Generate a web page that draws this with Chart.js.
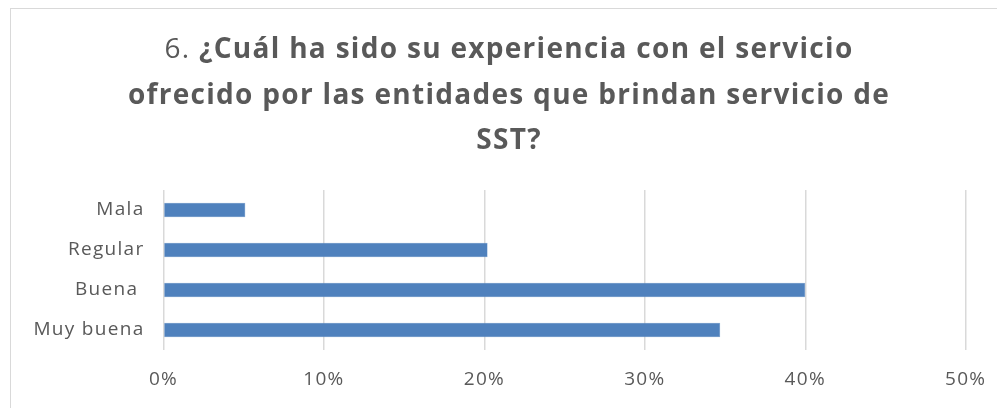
<!DOCTYPE html>
<html>
<head>
<meta charset="utf-8">
<script src="https://cdn.jsdelivr.net/npm/chart.js@4"></script>
<style>
  html, body { margin: 0; padding: 0; background: #fff; }
  #wrap { position: relative; width: 997px; height: 408px; overflow: hidden; }
  #frame { position: absolute; left: 10px; top: 8px; width: 1100px; height: 500px; border: 1px solid #d9d9d9; }
  canvas { position: absolute; left: 0; top: 0; }
</style>
</head>
<body>
<div id="wrap">
  <div id="frame"></div>
  <canvas id="myChart" width="997" height="408"></canvas>
</div>
<script>
const categories = ["Mala", "Regular", "Buena ", "Muy buena"];
const percentages = [5.1, 20.2, 40.0, 34.7];
const titleLines = [
  ["6. ", "¿Cuál ha sido su experiencia con el servicio"],
  ["", "ofrecido por las entidades que brindan servicio de"],
  ["", "SST?"],
];

const fontFamily = "'Open Sans', Lato, sans-serif";
const textColor = "#595959";

// wider spacing to get closer to the Calibri look of the original
const spacingPlugin = {
  id: "spacing",
  beforeLayout(chart) { chart.ctx.letterSpacing = "1.3px"; },
  beforeDraw(chart) { chart.ctx.letterSpacing = "1.3px"; },
};

// title: "6." regular, rest bold
const titlePlugin = {
  id: "mixedTitle",
  afterDraw(chart) {
    const ctx = chart.ctx;
    const lineY = [50, 96, 141];
    const cx = 509;
    const size = 28;
    ctx.save();
    ctx.letterSpacing = "1.3px";
    ctx.fillStyle = textColor;
    ctx.textBaseline = "middle";
    titleLines.forEach((parts, i) => {
      ctx.font = size + "px " + fontFamily;
      let w1 = ctx.measureText(parts[0]).width;
      ctx.font = "bold " + size + "px " + fontFamily;
      let w2 = ctx.measureText(parts[1]).width;
      let x = cx - (w1 + w2) / 2;
      ctx.textAlign = "left";
      ctx.font = size + "px " + fontFamily;
      ctx.fillText(parts[0], x, lineY[i]);
      ctx.font = "bold " + size + "px " + fontFamily;
      ctx.fillText(parts[1], x + w1, lineY[i]);
    });
    ctx.restore();
  },
};

new Chart("myChart", {
  type: "bar",
  data: {
    labels: categories,
    datasets: [
      {
        data: percentages,
        backgroundColor: "#4f81bd",
        borderColor: "#6d97c9",
        borderWidth: 0.5,
        barPercentage: 0.36,
        categoryPercentage: 1,
      },
    ],
  },
  options: {
    indexAxis: "y",
    responsive: false,
    animation: false,
    layout: { padding: { top: 190, right: 31.3, left: 0, bottom: 0 } },
    plugins: {
      legend: { display: false },
      title: { display: false },
      tooltip: { enabled: false },
    },
    scales: {
      x: {
        min: 0,
        max: 50,
        afterFit: (scale) => {
          scale.height = 58;
          scale.paddingRight = 0;
          scale.paddingLeft = 0;
        },
        ticks: {
          stepSize: 10,
          padding: 18,
          color: textColor,
          font: { family: fontFamily, size: 19 },
          callback: (v) => v + "%",
        },
        grid: { color: "#d9d9d9", lineWidth: 1.5, drawTicks: false },
        border: { display: false },
      },
      y: {
        afterFit: (scale) => { scale.width = 163.5; },
        ticks: {
          padding: 19,
          color: textColor,
          font: { family: fontFamily, size: 19 },
        },
        grid: { display: false, drawTicks: false },
        border: { display: false },
      },
    },
  },
  plugins: [spacingPlugin, titlePlugin],
});
</script>
</body>
</html>
